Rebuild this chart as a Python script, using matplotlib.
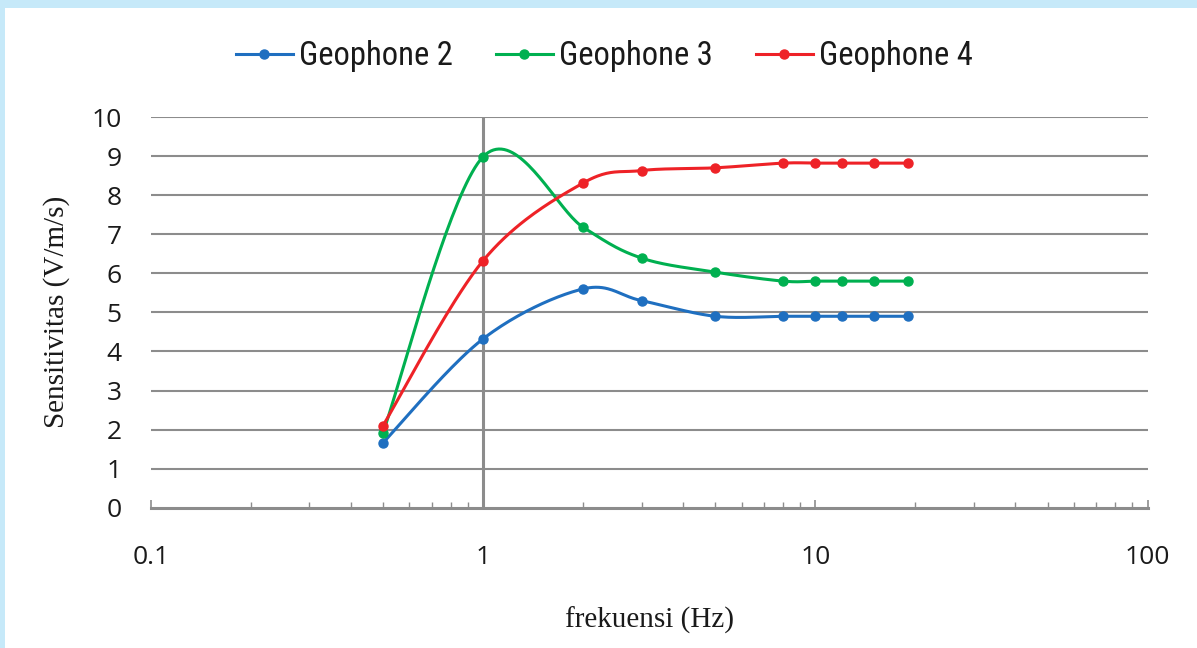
"""
Sensitivitas geophone vs frekuensi (log scale), Excel-style smoothed lines
"""
import numpy as np
import matplotlib
matplotlib.use("Agg")
import matplotlib.pyplot as plt
from matplotlib.patches import Rectangle
from matplotlib.ticker import FixedLocator, LogLocator, NullFormatter

# Data
freq = [0.5, 1, 2, 3, 5, 8, 10, 12, 15, 19]
geophone2 = [1.66, 4.32, 5.60, 5.30, 4.90, 4.90, 4.90, 4.90, 4.90, 4.90]
geophone3 = [1.92, 8.98, 7.18, 6.39, 6.03, 5.80, 5.80, 5.80, 5.80, 5.80]
geophone4 = [2.10, 6.32, 8.31, 8.63, 8.70, 8.82, 8.82, 8.82, 8.82, 8.82]
series_names = ["Geophone 2", "Geophone 3", "Geophone 4"]
series_colors = ["#1F6FC0", "#00B050", "#EE2227"]
x_ticks = [0.1, 1, 10, 100]
x_tick_labels = ["0.1", "1", "10", "100"]
y_ticks = list(range(0, 11))

GRID = "#8C8C8C"
TICK_FONT = ["Open Sans", "DejaVu Sans"]
LEGEND_FONT = ["Liberation Sans Narrow", "Roboto Condensed", "Liberation Sans"]
LABEL_FONT = ["Liberation Serif", "DejaVu Serif"]


def smooth_curve(ax, xs, ys, n=40):
    """Excel-like smoothing: Catmull-Rom Bezier built in display space"""
    pts = ax.transData.transform(np.column_stack([xs, ys]))
    padded = np.vstack([pts[0], pts, pts[-1]])
    out = []
    for i in range(len(pts) - 1):
        p0, p1, p2, p3 = padded[i], padded[i + 1], padded[i + 2], padded[i + 3]
        c1 = p1 + (p2 - p0) / 6.0
        c2 = p2 - (p3 - p1) / 6.0
        t = np.linspace(0, 1, n)[:, None]
        seg = ((1 - t) ** 3) * p1 + 3 * ((1 - t) ** 2) * t * c1 + 3 * (1 - t) * t ** 2 * c2 + t ** 3 * p2
        out.append(seg if i == 0 else seg[1:])
    curve = ax.transData.inverted().transform(np.vstack(out))
    return curve[:, 0], curve[:, 1]


fig = plt.figure(figsize=(11.97, 6.48), dpi=100)
fig.patch.set_facecolor("#C6E9F9")
fig.add_artist(Rectangle((5 / 1197, 0), 1, 1 - 7.5 / 648, transform=fig.transFigure,
                         facecolor="white", edgecolor="none", zorder=-10))

ax = fig.add_axes([0.1259, 0.2165, 0.8328, 0.6029])
ax.set_facecolor("none")
ax.set_xscale("log")
ax.set_xlim(0.1, 100)
ax.set_ylim(0, 10)

# gridlines and axes lines
for y in y_ticks[1:]:
    ax.axhline(y, color=GRID, lw=1.5, zorder=1)
ax.axvline(1, color=GRID, lw=2.2, zorder=1)
for side in ["top", "right", "left"]:
    ax.spines[side].set_visible(False)
ax.spines["bottom"].set_color(GRID)
ax.spines["bottom"].set_linewidth(2.2)

ax.xaxis.set_major_locator(FixedLocator(x_ticks))
ax.set_xticklabels(x_tick_labels)
ax.xaxis.set_minor_locator(LogLocator(base=10, subs=np.arange(2, 10)))
ax.xaxis.set_minor_formatter(NullFormatter())
ax.tick_params(axis="x", which="major", direction="in", length=6, width=1.2,
               color=GRID, pad=27, labelsize=19, labelcolor="#1A1A1A")
ax.tick_params(axis="x", which="minor", direction="in", length=4.5, width=1.0, color=GRID)
ax.set_yticks(y_ticks)
ax.tick_params(axis="y", length=0, pad=21, labelsize=19, labelcolor="#1A1A1A")
for lab in ax.get_xticklabels() + ax.get_yticklabels():
    lab.set_family(TICK_FONT)

fig.canvas.draw()

handles = []
for name, vals, color in zip(series_names, [geophone2, geophone3, geophone4], series_colors):
    cx, cy = smooth_curve(ax, freq, vals)
    ax.plot(cx, cy, color=color, lw=2.2, zorder=3, clip_on=False)
    ax.plot(freq, vals, linestyle="none", marker="o", ms=6.5, color=color, zorder=3, clip_on=False)
    h, = ax.plot([], [], color=color, lw=2.2, marker="o", ms=6.5)
    h.set_label(name)
    handles.append(h)

leg = fig.legend(handles=handles, loc="center", bbox_to_anchor=(0.505, 0.913), ncol=3,
                 frameon=False, handlelength=1.75, handletextpad=0.2, columnspacing=1.3,
                 prop={"family": LEGEND_FONT, "size": 23.5})
for t in leg.get_texts():
    t.set_color("#1A1A1A")

ax.set_xlabel("frekuensi (Hz)", fontfamily=LABEL_FONT, fontsize=21, color="#1A1A1A", labelpad=26)
ax.set_ylabel("Sensitivitas (V/m/s)", fontfamily=LABEL_FONT, fontsize=21, color="#1A1A1A", labelpad=15)

fig.savefig("out.png", dpi=100, facecolor=fig.get_facecolor())
